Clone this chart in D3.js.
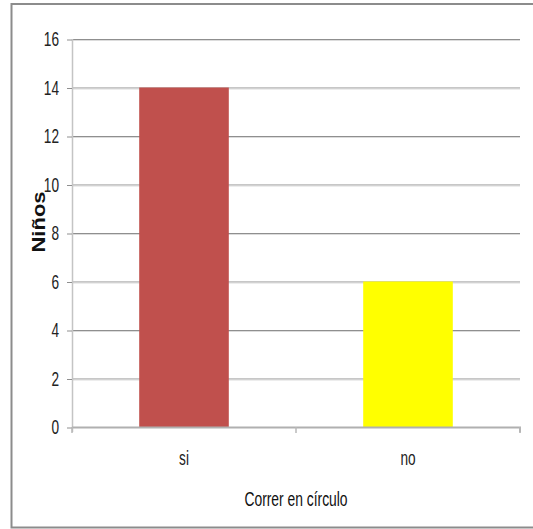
<!DOCTYPE html>
<html>
<head>
<meta charset="utf-8">
<script src="https://cdn.jsdelivr.net/npm/d3@7/dist/d3.min.js"></script>
<style>
  html, body { margin: 0; padding: 0; background: #fff; }
  svg { display: block; }
</style>
</head>
<body>
<svg id="chart" width="533" height="529"></svg>
<script>
// Chart data
const categories = ["si", "no"];
const values = [14, 6];
const barColors = ["#C0504D", "#FFFF00"];
const yTicks = [0, 2, 4, 6, 8, 10, 12, 14, 16];
const xTitle = "Correr en círculo";
const yTitle = "Niños";

const svg = d3.select("#chart");
const W = 533, H = 529;
const plot = { left: 72, right: 520, top: 39, bottom: 427 };
const narrow = 0.7; // horizontal condensing of the label font

// Outer frame (right side cut off)
svg.append("path")
  .attr("d", `M${W},4 H11.5 V527.5 H${W}`)
  .attr("fill", "none")
  .attr("stroke", "#8c8c8c")
  .attr("stroke-width", 2);

const x = d3.scaleBand().domain(categories).range([plot.left, plot.right]).padding(0);
const y = d3.scaleLinear().domain([0, 16]).range([plot.bottom, plot.top]);

// Horizontal gridlines
svg.append("g").selectAll("line")
  .data(yTicks.filter(d => d > 0))
  .join("line")
  .attr("x1", plot.left).attr("x2", plot.right)
  .attr("y1", d => y(d) + 0.5).attr("y2", d => y(d) + 0.5)
  .attr("stroke", "#8f8f8f").attr("stroke-width", 1);
svg.append("g").selectAll("line")
  .data(yTicks.filter(d => d > 0))
  .join("line")
  .attr("x1", plot.left).attr("x2", plot.right)
  .attr("y1", d => y(d) + 1.5).attr("y2", d => y(d) + 1.5)
  .attr("stroke", "#dcdcdc").attr("stroke-width", 1);

// Bars
const barW = x.bandwidth() * 0.4;
svg.append("g").selectAll("rect")
  .data(categories)
  .join("rect")
  .attr("x", d => x(d) + (x.bandwidth() - barW) / 2)
  .attr("width", barW)
  .attr("y", (d, i) => y(values[i]))
  .attr("height", (d, i) => y(0) - y(values[i]))
  .attr("fill", (d, i) => barColors[i]);

// Y axis
const yAxis = svg.append("g")
  .attr("transform", `translate(${plot.left},0)`)
  .call(d3.axisLeft(y).tickValues(yTicks).tickSize(5).tickSizeOuter(0).tickFormat(d3.format("d")));
yAxis.select(".domain").attr("stroke", "#c4c4c4").attr("stroke-width", 1.5)
  .attr("d", `M0.5,${plot.top} V${plot.bottom + 5}`);
yAxis.selectAll(".tick line").attr("stroke", "#8f8f8f").attr("x1", -5).attr("x2", 0)
  .attr("transform", "translate(0,0.5)");
yAxis.selectAll(".tick text")
  .attr("x", 0).attr("dy", "0.35em")
  .attr("text-anchor", "end")
  .attr("font-family", "Liberation Sans, Arial, sans-serif")
  .attr("font-size", 19.5)
  .attr("fill", "#222")
  .attr("transform", `translate(-13,0) scale(${narrow},1)`);

// X axis
const xAxis = svg.append("g")
  .attr("transform", `translate(0,${plot.bottom})`)
  .call(d3.axisBottom(x).tickSize(0).tickFormat(d => d));
xAxis.select(".domain").attr("stroke", "#b0b0b0").attr("stroke-width", 2)
  .attr("d", `M${plot.left},0.5 H${plot.right} V5.5`);
// Category boundary ticks
svg.append("g").selectAll("line")
  .data([plot.left, x.range()[0] + x.bandwidth(), plot.right])
  .join("line")
  .attr("x1", d => d).attr("x2", d => d)
  .attr("y1", plot.bottom).attr("y2", plot.bottom + 6)
  .attr("stroke", "#b8b8b8").attr("stroke-width", 1.5);
xAxis.selectAll(".tick text")
  .attr("y", 0).attr("dy", 0)
  .attr("font-family", "Liberation Sans, Arial, sans-serif")
  .attr("font-size", 19.5)
  .attr("fill", "#222")
  .attr("text-anchor", "middle")
  .attr("transform", `translate(0,38) scale(${narrow},1)`);

// Axis titles
svg.append("text")
  .attr("transform", `translate(${(plot.left + plot.right) / 2},506) scale(0.66,1)`)
  .attr("text-anchor", "middle")
  .attr("font-family", "Liberation Sans, Arial, sans-serif")
  .attr("font-size", 21)
  .attr("fill", "#111")
  .text(xTitle);

svg.append("text")
  .attr("transform", `translate(45,222) scale(0.85,1) rotate(-90)`)
  .attr("text-anchor", "middle")
  .attr("font-family", "Liberation Sans, Arial, sans-serif")
  .attr("font-weight", "bold")
  .attr("font-size", 22)
  .attr("fill", "#111")
  .text(yTitle);
</script>
</body>
</html>
